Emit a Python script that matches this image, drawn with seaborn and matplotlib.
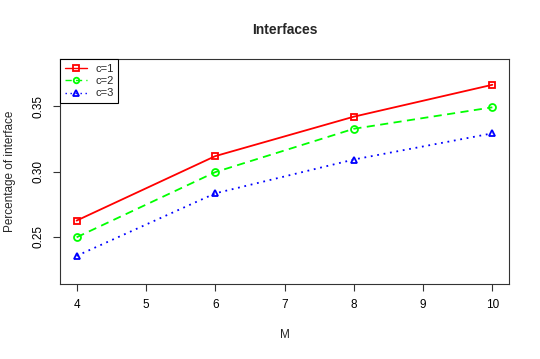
import matplotlib
matplotlib.use("Agg")
import matplotlib.pyplot as plt
import seaborn as sns
import pandas as pd

# Data
M = [4, 6, 8, 10]
c1 = [0.2623, 0.3118, 0.3421, 0.3666]
c2 = [0.2495, 0.2995, 0.3328, 0.3493]
c3 = [0.2352, 0.2832, 0.3092, 0.3293]
labels = ["c=1", "c=2", "c=3"]
xticks = [4, 5, 6, 7, 8, 9, 10]
yticks = [0.25, 0.30, 0.35]

sns.set_theme(style="ticks")
plt.rcParams["font.family"] = ["Liberation Sans", "DejaVu Sans"]

df = pd.concat([
    pd.DataFrame({"M": M, "val": v, "series": lab})
    for v, lab in zip([c1, c2, c3], labels)
])

fig = plt.figure(figsize=(5.4, 3.59), dpi=100)
ax = fig.add_axes([60/540, 1-284/359, (509-60)/540, (284-59)/359])

styles = {
    "c=1": dict(color="#FF0000", linestyle="-", marker="s"),
    "c=2": dict(color="#00FF00", linestyle=(0, (4.5, 3)), marker="o"),
    "c=3": dict(color="#0000FF", linestyle=(0, (1, 2.6)), marker="^"),
}
for lab in labels:
    sub = df[df["series"] == lab]
    st = styles[lab]
    sns.lineplot(data=sub, x="M", y="val", ax=ax, color=st["color"],
                 linestyle=st["linestyle"], marker=st["marker"],
                 markersize=5, markerfacecolor="none",
                 markeredgecolor=st["color"], markeredgewidth=1.3,
                 linewidth=1.3, label=lab, legend=False)

ax.set_xlim(3.76, 10.24)
ax.set_ylim(0.2136, 0.3864)
ax.set_xticks(xticks)
ax.set_xticklabels([str(t) for t in xticks])
ax.set_yticks(yticks)
ax.set_yticklabels(["0.25", "0.30", "0.35"], rotation=90, va="center")
ax.tick_params(axis="both", direction="out", length=5, width=0.8,
               color="#333333", labelsize=8.5, pad=6, labelcolor="black")
for s in ax.spines.values():
    s.set_visible(True)
    s.set_color("#333333")
    s.set_linewidth(0.8)
ax.set_xlabel("")
ax.set_ylabel("")
ax.grid(False)

fig.text(284.5/540, 1-335/359, "M", ha="center", va="center", fontsize=8.5)
fig.text(10/540, 1-171.5/359, "Percentage of interface", ha="center",
         va="center", rotation=90, fontsize=8.5)

leg = ax.legend(loc="upper left", bbox_to_anchor=(0, 1), borderaxespad=0,
                fancybox=False, edgecolor="black", framealpha=1,
                fontsize=8, handlelength=2.0, handletextpad=0.7,
                borderpad=0.45, labelspacing=0.2, markerscale=0.8)
leg.get_frame().set_linewidth(0.8)
for h in leg.get_lines():
    h.set_linewidth(1.0)

fig.text(284.5/540, 1-30/359, "Interfaces", ha="center", va="center",
         fontsize=10, fontweight="bold")

fig.savefig("out.png", dpi=100, facecolor="white")
